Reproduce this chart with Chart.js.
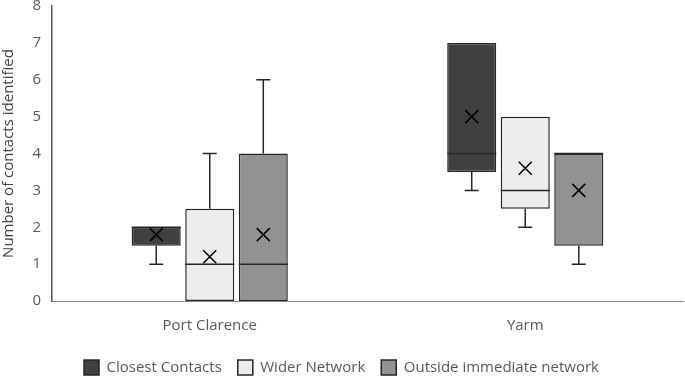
<!DOCTYPE html>
<html>
<head>
<meta charset="utf-8">
<script src="https://cdn.jsdelivr.net/npm/chart.js@4.4.0/dist/chart.umd.min.js"></script>
<style>
    html, body { margin: 0; padding: 0; background: #fff; }
    #wrap { width: 685px; height: 376px; }
</style>
</head>
<body>
<div id="wrap"><canvas id="boxChart"></canvas></div>
<script>
const categories = ['Port Clarence', 'Yarm'];
const seriesNames = ['Closest Contacts', 'Wider Network', 'Outside immediate network'];

// box stats per series, one value per category
const closestMin = [1, 3];
const closestQ1 = [1.5, 3.5];
const closestMedian = [2, 4];
const closestQ3 = [2, 7];
const closestMax = [2, 7];
const closestMean = [1.8, 5];

const widerMin = [0, 2];
const widerQ1 = [0, 2.5];
const widerMedian = [1, 3];
const widerQ3 = [2.5, 5];
const widerMax = [4, 5];
const widerMean = [1.2, 3.6];

const outsideMin = [0, 1];
const outsideQ1 = [0, 1.5];
const outsideMedian = [1, 4];
const outsideQ3 = [4, 4];
const outsideMax = [6, 4];
const outsideMean = [1.8, 3];

const yTicks = [0, 1, 2, 3, 4, 5, 6, 7, 8];

const fills = ['#404040', '#ededed', '#929292'];
const lineColor = '#262626';
const font = 'Open Sans';

const stats = [
    { min: closestMin, q1: closestQ1, med: closestMedian, q3: closestQ3, max: closestMax, mean: closestMean },
    { min: widerMin, q1: widerQ1, med: widerMedian, q3: widerQ3, max: widerMax, mean: widerMean },
    { min: outsideMin, q1: outsideQ1, med: outsideMedian, q3: outsideQ3, max: outsideMax, mean: outsideMean }
];

const datasets = seriesNames.map((name, i) => ({
    label: name,
    data: categories.map((c, j) => [stats[i].q1[j], stats[i].q3[j]]),
    backgroundColor: fills[i],
    borderColor: lineColor,
    borderWidth: 1.5,
    borderSkipped: false,
    barPercentage: 0.916,
    categoryPercentage: 0.509
}));

// whiskers, median lines and mean crosses
const boxExtras = {
    id: 'boxExtras',
    afterDatasetsDraw(chart) {
        const ctx = chart.ctx;
        const y = chart.scales.y;
        ctx.save();
        ctx.lineWidth = 1.5;
        chart.data.datasets.forEach((ds, i) => {
            const meta = chart.getDatasetMeta(i);
            meta.data.forEach((bar, j) => {
                const s = stats[i];
                const x = bar.x;
                const half = bar.width / 2;
                const cap = 7;
                const yMin = y.getPixelForValue(s.min[j]);
                const yQ1 = y.getPixelForValue(s.q1[j]);
                const yQ3 = y.getPixelForValue(s.q3[j]);
                const yMax = y.getPixelForValue(s.max[j]);
                const yMed = y.getPixelForValue(s.med[j]);
                const yMean = y.getPixelForValue(s.mean[j]);
                ctx.strokeStyle = lineColor;
                ctx.beginPath();
                if (s.min[j] < s.q1[j]) {
                    ctx.moveTo(x, yQ1); ctx.lineTo(x, yMin);
                    ctx.moveTo(x - cap, yMin); ctx.lineTo(x + cap, yMin);
                }
                if (s.max[j] > s.q3[j]) {
                    ctx.moveTo(x, yQ3); ctx.lineTo(x, yMax);
                    ctx.moveTo(x - cap, yMax); ctx.lineTo(x + cap, yMax);
                }
                ctx.moveTo(x - half, yMed); ctx.lineTo(x + half, yMed);
                ctx.stroke();
                // mean marker
                ctx.strokeStyle = '#000';
                ctx.beginPath();
                const m = 6.5;
                ctx.moveTo(x - m, yMean - m); ctx.lineTo(x + m, yMean + m);
                ctx.moveTo(x - m, yMean + m); ctx.lineTo(x + m, yMean - m);
                ctx.stroke();
            });
        });
        ctx.restore();
    }
};

const ctx = document.getElementById('boxChart').getContext('2d');
new Chart(ctx, {
    type: 'bar',
    data: { labels: categories, datasets: datasets },
    options: {
        responsive: true,
        maintainAspectRatio: false,
        animation: false,
        layout: { padding: { top: 6, right: 2, left: 0, bottom: -9 } },
        plugins: {
            legend: {
                position: 'bottom',
                labels: {
                    boxWidth: 15,
                    boxHeight: 15,
                    color: '#595959',
                    padding: 16,
                    font: { family: font, size: 15 }
                }
            },
            tooltip: { enabled: false }
        },
        scales: {
            x: {
                grid: { display: false, drawTicks: false },
                border: { color: '#8c8c8c', width: 1 },
                ticks: { color: '#595959', font: { family: font, size: 15 }, padding: 16 },
                afterFit: scale => { scale.height = 43; }
            },
            y: {
                min: 0,
                max: 8,
                afterBuildTicks: axis => { axis.ticks = yTicks.map(v => ({ value: v })); },
                grid: { display: false, drawTicks: false },
                border: { color: '#595959', width: 1.5 },
                ticks: { color: '#595959', font: { family: font, size: 15 }, padding: 11 },
                title: {
                    display: true,
                    text: 'Number of contacts identified',
                    color: '#404040',
                    font: { family: font, size: 15 },
                    padding: { top: 0, bottom: 0 }
                },
                afterFit: scale => { scale.width = 52; scale.paddingTop = 0; }
            }
        }
    },
    plugins: [boxExtras]
});
</script>
</body>
</html>
